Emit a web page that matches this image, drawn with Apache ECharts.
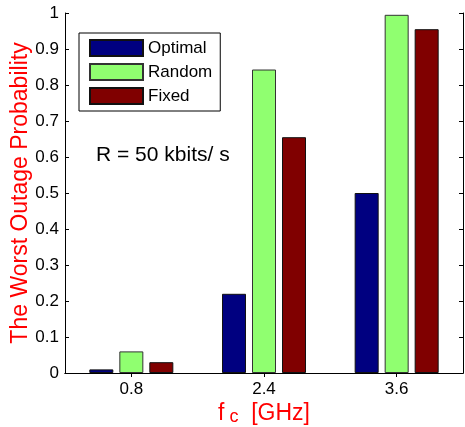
<!DOCTYPE html>
<html>
<head>
<meta charset="utf-8">
<script src="https://cdn.jsdelivr.net/npm/echarts@6/dist/echarts.min.js"></script>
<style>html,body{margin:0;padding:0;background:#fff;}#c{width:465px;height:427px;}</style>
</head>
<body>
<div id="c"></div>
<script>
var categories = ['0.8', '2.4', '3.6'];
var seriesNames = ['Optimal', 'Random', 'Fixed'];
var optimal = [0.01, 0.22, 0.50];
var random = [0.06, 0.843, 0.995];
var fixed = [0.03, 0.655, 0.955];
var yTicks = [0, 0.1, 0.2, 0.3, 0.4, 0.5, 0.6, 0.7, 0.8, 0.9, 1];
var annotation = 'R = 50 kbits/ s';

var colors = ['#000080', '#90FF70', '#800000'];
var font = 'Arial, "Liberation Sans", sans-serif';
var chart = echarts.init(document.getElementById('c'), null, {renderer: 'canvas'});
function lbl(v) { return v === 0 ? '0' : (v === 1 ? '1' : v.toFixed(1)); }
var yCommon = {
  type: 'value', min: 0, max: 1, interval: 0.1,
  axisLine: {show: true, lineStyle: {color: '#000', width: 1}},
  axisTick: {show: true, inside: true, length: 4, lineStyle: {color: '#000'}},
  splitLine: {show: false}
};
chart.setOption({
  animation: false,
  textStyle: {fontFamily: font},
  grid: {left: 65, right: 2, top: 13, bottom: 54, containLabel: false, outerBoundsMode: 'none'},
  legend: {
    orient: 'vertical', left: 79, top: 33,
    padding: [6, 8, 6, 10], itemWidth: 53, itemHeight: 16, itemGap: 6,
    borderColor: '#000', borderWidth: 1, backgroundColor: '#fff',
    textStyle: {fontSize: 17, color: '#000', fontFamily: font},
    icon: 'rect',
    data: seriesNames
  },
  graphic: [{
    type: 'text', left: 96, top: 145,
    style: {text: annotation, fontSize: 21, fill: '#000', fontFamily: font}
  }],
  xAxis: [{
    type: 'category', data: categories, position: 'bottom',
    axisLine: {lineStyle: {color: '#000'}},
    axisTick: {show: true, inside: true, alignWithLabel: true, length: 4, lineStyle: {color: '#000'}},
    axisLabel: {fontSize: 17, color: '#000', margin: 8, fontFamily: font},
    name: '{f|f}{c|c}{g|  [GHz]}', nameLocation: 'middle', nameGap: 29, nameMoveOverlap: false,
    nameTextStyle: {
      rich: {
        f: {fontSize: 23, color: '#f00', lineHeight: 24, verticalAlign: 'top', fontFamily: font},
        c: {fontSize: 18, color: '#f00', lineHeight: 18, padding: [10, 0, 0, 5], verticalAlign: 'bottom', fontFamily: font},
        g: {fontSize: 23, color: '#f00', lineHeight: 24, verticalAlign: 'top', fontFamily: font}
      }
    }
  }, {
    type: 'category', data: categories, position: 'top',
    axisLine: {show: true, lineStyle: {color: '#000'}},
    axisTick: {show: true, inside: true, alignWithLabel: true, length: 4, lineStyle: {color: '#000'}},
    axisLabel: {show: false}
  }],
  yAxis: [Object.assign({}, yCommon, {
    position: 'left',
    axisLabel: {fontSize: 17, color: '#000', margin: 6, fontFamily: font, formatter: lbl},
    name: 'The Worst Outage Probability', nameLocation: 'middle', nameGap: 33, nameMoveOverlap: false,
    nameTextStyle: {fontSize: 23, color: '#f00', fontFamily: font}
  }), Object.assign({}, yCommon, {
    position: 'right', axisLabel: {show: false}
  })],
  series: [
    {name: seriesNames[0], type: 'bar', data: optimal, barWidth: 24, barGap: '25%',
     itemStyle: {color: colors[0], borderColor: '#111', borderWidth: 1}},
    {name: seriesNames[1], type: 'bar', data: random, barWidth: 24, barGap: '25%',
     itemStyle: {color: colors[1], borderColor: '#333', borderWidth: 1}},
    {name: seriesNames[2], type: 'bar', data: fixed, barWidth: 24, barGap: '25%',
     itemStyle: {color: colors[2], borderColor: '#111', borderWidth: 1}}
  ]
});
</script>
</body>
</html>
